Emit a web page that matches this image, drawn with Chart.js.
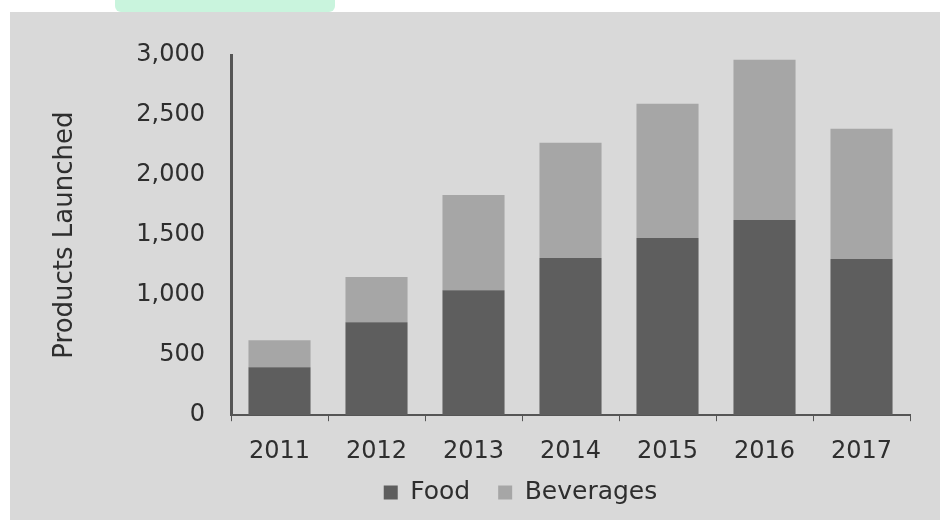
<!DOCTYPE html>
<html>
<head>
<meta charset="utf-8">
<script src="https://cdn.jsdelivr.net/npm/chart.js@4"></script>
<style>
  html, body { margin: 0; padding: 0; background: #fff; }
  body { width: 940px; height: 520px; position: relative; overflow: hidden; }
  #blob { position: absolute; left: 115px; top: 0; width: 220px; height: 12px; background: #c9f4dd; border-radius: 0 0 6px 6px; }
  #panel { position: absolute; left: 10px; top: 12px; width: 930px; height: 508px; background: #d9d9d9; }
  canvas { display: block; }
</style>
</head>
<body>
<div id="blob"></div>
<div id="panel"><canvas id="chart" width="930" height="508"></canvas></div>
<script>
const years = ['2011', '2012', '2013', '2014', '2015', '2016', '2017'];
const food = [400, 775, 1040, 1310, 1475, 1625, 1300];
const beverages = [225, 375, 795, 960, 1120, 1335, 1085];
const yTicks = [0, 500, 1000, 1500, 2000, 2500, 3000];

const FONT = 'DejaVu Sans';
const TEXT = '#2e2e2e';
const AXIS = '#555555';

// nudge the legend to where the original sits
const legendShift = {
    id: 'legendShift',
    afterLayout(chart) {
        const lg = chart.legend;
        if (!lg) return;
        lg.left += 42;
        lg.right += 42;
        lg.top -= 30;
        lg.bottom -= 30;
    }
};

new Chart(document.getElementById('chart').getContext('2d'), {
    type: 'bar',
    data: {
        labels: years,
        datasets: [
            {
                label: 'Food',
                data: food,
                backgroundColor: '#5e5e5e',
                barPercentage: 0.64,
                categoryPercentage: 1
            },
            {
                label: 'Beverages',
                data: beverages,
                backgroundColor: '#a6a6a6',
                barPercentage: 0.64,
                categoryPercentage: 1
            }
        ]
    },
    options: {
        responsive: false,
        animation: false,
        devicePixelRatio: 1,
        locale: 'en-US',
        layout: { padding: { left: 37, right: 30, top: 43, bottom: -25 } },
        scales: {
            x: {
                stacked: true,
                grid: {
                    display: true,
                    drawOnChartArea: false,
                    drawTicks: true,
                    tickLength: 6,
                    color: AXIS,
                    lineWidth: 1
                },
                border: { display: true, color: AXIS, width: 2 },
                ticks: {
                    color: TEXT,
                    padding: 16,
                    font: { family: FONT, size: 24 }
                }
            },
            y: {
                stacked: true,
                min: 0,
                max: 3000,
                afterBuildTicks: s => { s.ticks = yTicks.map(v => ({ value: v })); },
                grid: { display: false, drawTicks: false },
                border: { display: true, color: AXIS, width: 3 },
                ticks: {
                    color: TEXT,
                    padding: 26,
                    font: { family: FONT, size: 24 }
                },
                title: {
                    display: true,
                    text: 'Products Launched',
                    color: TEXT,
                    font: { family: FONT, size: 26 },
                    padding: { top: 3, bottom: 4 }
                },
                afterFit: s => { s.width = 184; }
            }
        },
        plugins: {
            legend: {
                position: 'bottom',
                labels: {
                    color: TEXT,
                    boxWidth: 14,
                    boxHeight: 14,
                    padding: 28,
                    font: { family: FONT, size: 25 }
                }
            },
            tooltip: { enabled: false }
        }
    },
    plugins: [legendShift]
});
</script>
</body>
</html>
